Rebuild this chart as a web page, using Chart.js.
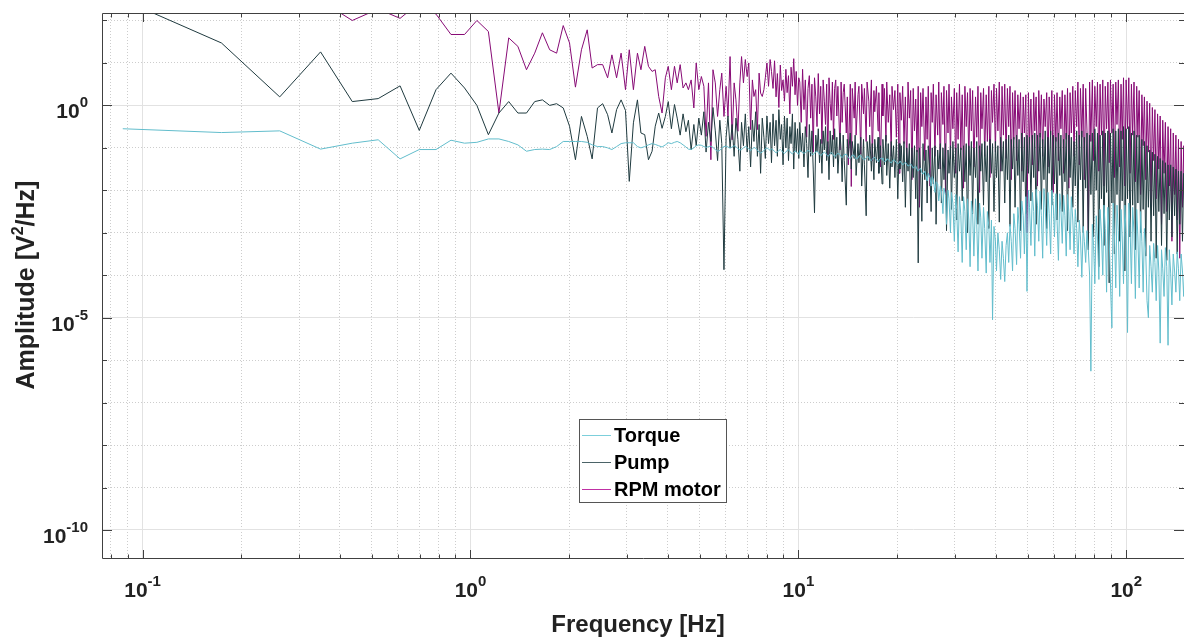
<!DOCTYPE html>
<html>
<head>
<meta charset="utf-8">
<script src="https://cdn.jsdelivr.net/npm/chart.js@4.4.1/dist/chart.umd.min.js"></script>
<style>
  html, body { margin: 0; padding: 0; background: #ffffff; }
  #wrap { width: 1184px; height: 639px; position: relative; }
</style>
</head>
<body>
<div id="wrap"><canvas id="psdChart"></canvas></div>
<script>
// frequency bins [Hz]
const freq = [
  0.087,0.174,0.262,0.349,0.436,0.523,0.610,0.698,0.785,0.872,
  0.959,1.046,1.134,1.221,1.308,1.395,1.482,1.570,1.657,1.744,
  1.831,1.918,2.005,2.090,2.180,2.270,2.350,2.440,2.530,2.620,
  2.700,2.790,2.880,2.970,3.050,3.140,3.230,3.310,3.400,3.490,
  3.580,3.660,3.750,3.840,3.930,4.010,
  4.10,4.19,4.27,4.36,4.45,4.54,4.62,4.71,4.80,4.88,
  4.97,5.06,5.15,5.23,5.32,5.41,5.49,5.58,5.67,5.76,
  5.84,5.93,6.02,6.10,6.19,6.28,6.37,6.45,6.54,6.63,
  6.71,6.80,6.89,6.98,7.06,7.15,7.24,7.32,7.41,7.50,
  7.59,7.67,7.76,7.85,7.93,8.02,8.11,8.20,8.28,
  8.37,8.46,8.55,8.63,8.72,8.81,8.89,8.98,9.07,9.16,
  9.24,9.33,9.42,9.50,9.59,9.68,9.77,9.85,9.94,10.03,
  10.1,10.2,10.3,10.4,10.5,10.6,10.7,10.8,10.9,11.0,
  11.1,11.2,11.3,11.4,11.5,11.6,11.7,11.8,11.9,12.0,
  12.1,12.2,12.3,12.4,12.5,12.6,12.7,12.8,12.9,13.0,
  13.1,13.2,13.4,13.5,13.6,13.7,13.8,14.0,14.1,14.2,
  14.4,14.5,14.6,14.8,14.9,15.0,15.2,15.3,15.5,15.6,
  15.8,15.9,16.1,16.2,16.4,16.5,16.7,16.8,17.0,17.1,
  17.3,17.5,17.6,17.8,18.0,18.1,18.3,18.5,18.6,18.8,
  19.0,19.2,19.3,19.5,19.7,19.9,20.1,20.3,20.4,20.6,
  20.8,21.0,21.2,21.4,21.6,21.8,22.0,22.2,22.4,22.6,
  22.8,23.0,23.2,23.4,23.6,23.8,24.0,24.3,24.5,24.7,
  24.9,25.2,25.4,25.6,25.8,26.1,26.3,26.6,26.8,27.1,
  27.3,27.6,27.8,28.1,28.3,28.6,28.8,29.1,29.3,29.6,
  29.9,30.2,30.4,30.7,31.0,31.3,31.6,31.9,32.2,32.5,
  32.8,33.1,33.4,33.7,34.0,34.3,34.7,35.0,35.3,35.7,
  36.0,36.3,36.7,37.0,37.4,37.7,38.1,38.4,38.8,39.1,
  39.5,39.9,40.2,40.6,41.0,41.4,41.8,42.2,42.6,43.0,
  43.4,43.8,44.2,44.6,45.0,45.4,45.8,46.3,46.7,47.1,
  47.6,48.0,48.5,48.9,49.4,49.8,50.3,50.7,51.2,51.7,
  52.2,52.6,53.1,53.6,54.1,54.6,55.1,55.6,56.1,56.6,
  57.2,57.7,58.2,58.8,59.3,59.9,60.4,61.0,61.5,62.1,
  62.7,63.2,63.8,64.4,65.0,65.6,66.2,66.8,67.4,68.0,
  68.7,69.3,69.9,70.6,71.2,71.9,72.5,73.2,73.9,74.5,
  75.2,75.9,76.6,77.3,78.0,78.8,79.5,80.2,81.0,81.7,
  82.5,83.2,84.0,84.8,85.5,86.3,87.1,87.9,88.7,89.5,
  90.4,91.2,92.0,92.9,93.7,94.6,95.5,96.4,97.2,98.1,
  99.0,99.9,100.9,101.8,102.7,103.7,104.6,105.6,106.6,107.6,
  108.5,109.5,110.6,111.6,112.6,113.6,114.7,115.7,116.8,117.9,
  119.0,120.1,121.2,122.3,123.4,124.6,125.7,126.9,128.1,129.2,
  130.4,131.6,132.9,134.1,135.3,136.6,137.8,139.1,140.4,141.7,
  143.0,144.3,145.6,147.0,148.4,149.7,151.1
];

// amplitudes as log10(V^2/Hz), one per bin
const torqueLog = [
  -0.55,-0.64,-0.60,-1.03,-0.89,-0.81,-1.26,-1.04,-1.04,-0.82,
  -0.89,-0.87,-0.79,-0.79,-0.85,-0.93,-1.08,-1.04,-1.03,-1.04,
  -0.97,-0.85,-0.85,-0.85,-0.85,-0.87,-0.93,-0.97,-0.97,-1.00,
  -1.04,-0.97,-0.90,-0.88,-0.88,-0.88,-0.97,-1.00,-0.97,-0.93,
  -0.90,-0.92,-0.95,-0.98,-0.93,-0.88,
  -0.90,-0.87,-0.85,-0.88,-0.93,-0.98,-1.03,-1.04,-1.00,-0.95,
  -0.93,-0.94,-0.97,-0.99,-0.97,-0.96,-0.99,-1.04,-1.08,-1.06,
  -1.01,-0.97,-0.96,-0.98,-1.01,-0.98,-0.95,-0.97,-1.02,-1.05,
  -1.04,-1.00,-0.97,-0.99,-1.03,-1.06,-1.03,-0.99,-1.01,-1.06,
  -1.10,-1.12,-1.10,-1.06,-1.02,-1.00,-1.03,-1.06,-1.02,
  -1.05,-1.08,-1.12,-1.10,-1.06,-1.04,-1.07,-1.11,-1.13,-1.10,
  -1.06,-1.05,-1.08,-1.12,-1.14,-1.11,-1.07,-1.09,-1.13,-1.15,
  -1.06,-1.08,-1.11,-1.13,-1.11,-1.08,-1.06,-1.08,-1.12,-1.15,
  -1.16,-1.13,-1.09,-1.08,-1.11,-1.15,-1.18,-1.16,-1.12,-1.10,
  -1.12,-1.16,-1.20,-1.18,-1.14,-1.11,-1.13,-1.17,-1.21,-1.19,
  -1.15,-1.13,-1.16,-1.21,-1.23,-1.20,-1.16,-1.15,-1.19,-1.23,
  -1.25,-1.21,-1.17,-1.18,-1.23,-1.26,-1.24,-1.19,-1.18,-1.22,
  -1.27,-1.28,-1.24,-1.20,-1.22,-1.27,-1.30,-1.27,-1.22,-1.23,
  -1.28,-1.32,-1.30,-1.25,-1.24,-1.29,-1.33,-1.31,-1.26,-1.27,
  -1.32,-1.36,-1.33,-1.28,-1.30,-1.35,-1.38,-1.34,-1.31,-1.35,
  -1.40,-1.37,-1.34,-1.38,-1.43,-1.41,-1.38,-1.42,-1.48,-1.45,
  -1.43,-1.50,-1.55,-1.50,-1.48,-1.58,-1.62,-1.55,-1.65,-1.78,
  -1.60,-1.70,-1.90,-1.68,-1.75,-2.05,-1.80,-1.85,-2.25,-1.90,
  -2.00,-2.55,-1.95,-2.10,-2.80,-2.00,-2.20,-3.00,-2.05,-2.30,
  -3.20,-2.10,-2.45,-3.45,-2.15,-2.60,-3.70,-2.15,-2.50,-3.40,
  -2.20,-2.70,-3.80,-2.25,-2.55,-3.55,-2.20,-2.80,-3.90,-2.30,
  -2.65,-3.60,-2.40,-2.90,-3.95,-2.50,-2.85,-3.70,-2.70,-5.05,
  -2.85,-3.20,-3.90,-3.00,-3.40,-4.10,-3.20,-3.60,-4.15,-3.30,
  -3.00,-3.70,-2.80,-3.20,-3.90,-2.55,-2.90,-3.75,-2.40,-2.80,
  -3.60,-2.25,-2.60,-3.50,-2.15,-4.38,-2.00,-2.40,-3.30,-2.05,
  -2.50,-3.55,-1.98,-2.35,-3.20,-2.02,-2.60,-3.60,-1.96,-2.40,
  -3.30,-2.05,-2.55,-3.50,-2.00,-2.35,-3.10,-2.08,-2.70,-3.65,
  -2.08,-2.45,-3.25,-2.12,-2.60,-3.55,-2.10,-2.50,-3.40,-2.15,
  -2.70,-3.50,-2.45,-2.90,-3.80,-2.70,-3.10,-4.05,-2.85,-3.20,
  -3.70,-2.95,-3.40,-4.00,-6.26,-2.80,-3.30,-4.20,-2.60,-3.10,
  -4.10,-2.45,-3.00,-4.00,-2.35,-2.90,-4.40,-2.40,-3.10,-4.20,
  -5.24,-2.30,-3.00,-4.30,-2.35,-2.95,-4.50,-2.45,-3.10,-4.20,
  -2.35,-3.00,-5.35,-2.30,-2.85,-4.20,-2.40,-3.00,-4.55,-2.45,
  -3.10,-4.30,-2.50,-3.20,-4.40,-2.90,-3.50,-4.60,-5.00,-3.30,
  -3.80,-4.40,-3.25,-3.70,-4.60,-3.30,-3.90,-5.60,-3.40,-3.85,
  -4.50,-3.35,-3.80,-5.65,-3.40,-3.95,-4.70,-3.50,-3.90,-4.40,
  -3.45,-3.85,-4.60,-3.50,-3.90,-4.50,-3.60
];

const pumpLog = [
  2.49,1.47,0.20,1.26,0.09,0.16,0.46,-0.59,0.37,0.76,
  0.41,0.00,-0.69,-0.18,0.09,-0.18,-0.18,0.09,0.13,0.00,
  0.04,-0.06,-0.49,-1.28,-0.26,-0.73,-1.26,-0.06,0.04,-0.22,
  -0.65,-0.10,0.13,-0.12,-1.79,-0.41,0.13,-0.65,-0.69,-1.28,
  -1.08,-0.49,-0.18,-0.54,-0.26,0.09,
  -0.55,0.02,-0.30,-0.70,-0.20,-0.62,-0.35,-1.05,-0.45,-0.95,
  -0.30,-0.70,-0.15,-1.10,-0.40,-0.85,-0.05,-0.60,-1.30,-0.35,
  -0.90,-3.87,-0.75,-0.25,-1.00,-0.45,-1.20,-0.30,-0.80,-1.55,
  -0.40,-0.95,-0.20,-1.10,-0.50,-1.45,-0.35,-0.85,-0.15,-1.20,
  -0.45,-1.60,-0.30,-0.75,-1.25,-0.25,-0.90,-0.40,-1.35,
  -0.20,-0.95,-0.35,-1.20,-0.10,-0.80,-0.45,-1.40,-0.25,-1.00,
  -0.30,-1.30,-0.50,-0.90,-0.20,-1.50,-0.40,-1.10,-0.55,-1.25,
  -0.40,-1.10,-0.65,-1.45,-0.50,-0.90,-1.70,-0.45,-1.20,-0.60,
  -1.50,-2.53,-0.70,-1.10,-0.55,-1.35,-0.80,-1.60,-0.60,-1.05,
  -0.50,-1.30,-0.85,-1.75,-0.60,-1.15,-0.70,-1.45,-0.55,-1.25,
  -0.75,-1.60,-0.65,-1.05,-1.80,-0.70,-1.30,-2.35,-0.80,-1.20,
  -0.65,-1.50,-0.85,-1.25,-0.70,-1.65,-0.90,-1.35,-0.75,-1.90,
  -0.80,-1.40,-2.60,-0.85,-1.30,-0.70,-1.55,-0.90,-1.75,-0.80,
  -1.35,-0.75,-1.60,-0.95,-1.85,-0.80,-1.40,-0.70,-1.65,-0.90,
  -1.95,-0.85,-1.45,-0.95,-1.70,-0.80,-2.20,-0.90,-1.50,-0.95,
  -1.80,-0.85,-2.40,-1.00,-1.55,-0.90,-2.60,-1.00,-1.70,-0.95,
  -2.20,-1.05,-3.71,-1.00,-1.60,-2.73,-0.90,-1.75,-1.05,-2.30,
  -0.95,-1.60,-2.50,-1.00,-1.85,-0.95,-2.80,-1.05,-1.50,-0.90,
  -2.30,-1.00,-1.75,-0.90,-2.95,-1.05,-1.60,-0.95,-2.45,-0.85,
  -1.70,-1.00,-2.70,-0.90,-1.55,-1.00,-2.25,-0.95,-1.80,-0.90,
  -3.00,-0.95,-1.65,-0.85,-2.55,-1.00,-1.70,-0.85,-2.80,-0.95,
  -1.55,-0.90,-2.35,-0.85,-1.80,-0.95,-2.90,-0.80,-1.60,-0.90,
  -2.50,-0.85,-1.70,-0.95,-2.75,-0.75,-1.55,-0.85,-2.30,-0.80,
  -1.75,-0.70,-2.85,-0.80,-1.50,-0.75,-2.40,-0.70,-1.65,-0.80,
  -2.95,-0.65,-1.80,-0.75,-2.55,-0.70,-1.60,-0.75,-2.25,-0.70,
  -1.70,-0.65,-2.80,-0.70,-1.55,-0.65,-2.45,-0.80,-1.75,-0.60,
  -2.90,-0.75,-1.60,-0.60,-2.35,-0.70,-1.85,-0.75,-2.70,-0.65,
  -1.65,-0.70,-2.50,-0.80,-1.80,-0.65,-2.95,-0.70,-1.70,-0.75,
  -2.40,-0.85,-1.90,-0.60,-2.75,-0.70,-1.75,-0.60,-3.00,-0.75,
  -1.95,-0.65,-3.40,-0.70,-2.10,-0.65,-3.10,-0.55,-2.00,-0.65,
  -3.80,-0.70,-2.20,-0.60,-3.30,-0.65,-2.05,-0.60,-4.18,-0.65,
  -2.30,-0.55,-3.50,-0.60,-2.10,-0.55,-3.20,-0.60,-2.25,-0.50,
  -3.90,-0.55,-2.20,-0.50,-3.10,-0.65,-2.35,-0.60,-3.40,-0.70,
  -2.30,-0.70,-3.00,-0.80,-2.45,-0.85,-3.55,-0.95,-2.40,-1.05,
  -3.20,-1.10,-2.60,-1.15,-3.60,-1.20,-2.50,-1.25,-3.30,-1.30,
  -2.55,-1.35,-3.65,-1.40,-2.70,-1.40,-3.10,-1.45,-2.60,-1.50,
  -3.50,-1.55,-2.80,-1.55,-3.20,-1.60,-2.70
];

const rpmLog = [
  3.00,2.90,2.80,2.47,2.00,2.27,2.05,2.42,2.15,1.67,
  1.67,2.00,1.74,-0.18,1.59,1.39,0.84,1.23,1.71,1.31,
  1.23,1.88,1.47,0.43,1.31,1.78,0.88,0.96,0.96,0.65,
  1.19,0.65,1.23,0.37,1.31,0.37,1.23,0.84,1.39,0.92,
  0.80,0.84,0.21,-0.18,0.65,0.92,
  0.37,0.92,0.53,0.96,0.41,0.53,0.37,0.60,-0.06,1.00,
  0.37,0.68,0.45,-0.73,0.53,-1.28,0.84,0.53,-0.26,0.37,
  0.76,-0.26,0.45,-0.26,1.15,-0.81,0.53,0.13,-0.61,0.53,
  1.15,0.53,1.08,0.68,1.00,-0.57,0.60,0.21,0.37,-0.57,
  0.76,0.29,0.21,0.37,0.65,1.00,0.45,1.08,0.80,
  0.40,1.05,0.20,0.75,-0.05,0.95,0.35,0.60,0.10,0.85,
  0.30,0.70,-0.20,0.90,0.45,1.10,0.25,0.80,0.00,0.65,
  0.55,-0.40,0.85,-0.10,0.60,-0.75,0.40,0.70,-0.30,0.50,
  -1.10,0.65,0.20,-0.50,0.75,-0.20,0.45,-0.90,0.60,0.10,
  -0.45,0.50,-1.20,0.65,0.05,-0.35,0.55,-0.80,0.40,0.60,
  -0.25,0.45,-1.05,0.55,-0.40,0.30,0.50,-0.65,0.20,-1.40,
  0.50,-1.91,0.40,-0.30,0.55,-0.70,0.25,0.45,-1.15,0.50,
  -0.20,0.40,-0.85,0.55,0.10,-0.50,0.60,-1.30,0.35,-0.15,
  0.45,-0.60,0.30,-1.45,0.50,-0.25,0.40,-0.85,0.55,-0.40,
  0.25,-1.20,0.45,-0.10,0.35,-0.75,0.50,-1.60,0.30,-0.35,
  0.45,-0.90,0.20,-1.40,0.55,-0.30,0.35,-1.75,0.40,-0.60,
  0.15,-1.10,0.45,-2.40,0.30,-0.50,0.40,-1.30,0.20,-0.80,
  0.45,-1.90,0.30,-0.40,0.50,-1.20,0.25,-0.70,0.55,-1.50,
  0.30,-0.45,0.45,-2.10,0.35,-0.65,0.50,-1.25,0.20,-0.55,
  0.40,-1.60,0.30,-0.80,0.50,-1.05,0.25,-1.95,0.45,-0.50,
  0.30,-1.30,0.40,-0.60,0.35,-1.45,0.20,-0.75,0.45,-2.05,
  0.30,-0.55,0.40,-1.20,0.25,-0.85,0.45,-1.70,0.35,-0.40,
  0.50,-1.10,0.40,-0.60,0.55,-1.55,0.45,-0.70,0.50,-1.25,
  0.40,-0.50,0.45,-1.75,0.30,-0.80,0.35,-1.30,0.25,-0.55,
  0.30,-1.55,0.20,-0.65,0.25,-3.00,0.30,-0.90,0.15,-1.40,
  0.30,-0.60,0.20,-1.90,0.35,-0.75,0.25,-1.20,0.15,-0.50,
  0.30,-1.45,0.20,-0.70,0.35,-2.05,0.25,-0.85,0.30,-1.30,
  0.20,-0.55,0.35,-1.60,0.25,-0.80,0.40,-1.95,0.30,-0.65,
  0.45,-1.20,0.35,-0.50,0.55,-1.40,0.40,-0.75,0.50,-1.75,
  0.40,-0.60,-3.10,0.55,-0.85,0.60,-1.30,0.45,-0.50,0.55,
  -1.55,0.50,-0.70,0.60,-1.90,0.45,-0.55,0.55,-1.35,0.60,
  -0.65,0.50,-1.70,0.55,-0.45,0.60,-1.45,0.50,-0.80,0.65,
  -1.90,0.60,-0.55,0.65,-1.60,0.50,-0.70,0.55,-1.80,0.45,
  -0.75,0.35,-2.10,0.25,-0.95,0.20,-1.75,0.10,-1.10,0.05,
  -2.40,-0.05,-1.30,-0.10,-2.20,-0.20,-1.50,-0.25,-2.80,-0.35,
  -1.60,-0.40,-2.50,-0.50,-1.90,-0.55,-3.20,-0.65,-2.10,-0.70,
  -2.70,-0.80,-3.60,-0.85,-2.40,-0.95,-3.00
];

const seriesNames = ["Torque", "Pump", "RPM motor"];
const seriesColors = ["#62bdcc", "#1f3a3f", "#870a75"];
const legendColors = ["#7ccfdb", "#4b6367", "#c030a4"];

// axis ticks
const xTicks = [0.08, 0.09, 0.1, 0.2, 0.3, 0.4, 0.5, 0.6, 0.7, 0.8, 0.9,
                1, 2, 3, 4, 5, 6, 7, 8, 9, 10, 20, 30, 40, 50, 60, 70, 80, 90, 100];
const yTicks = [1e-10, 1e-9, 1e-8, 1e-7, 1e-6, 1e-5, 1e-4, 1e-3, 1e-2, 1e-1, 1, 10, 100];
const xLabelTicks = [0.1, 1, 10, 100];
const yLabelTicks = [1e-10, 1e-5, 1];

const FONT = "'Liberation Sans', Arial, Helvetica, sans-serif";
const AXIS_COLOR = "#404040";
const TEXT_COLOR = "#222222";

function toPoints(logs) {
  return freq.map((f, i) => ({ x: f, y: Math.pow(10, logs[i]) }));
}

function isDecade(v) {
  let l = Math.log10(v);
  return Math.abs(l - Math.round(l)) < 1e-6;
}

function isYMajor(v) {
  let l = Math.round(Math.log10(v));
  return isDecade(v) && l % 5 === 0;
}

// "10" with a superscript exponent
function drawPower(ctx, exp, x, baseline, align) {
  ctx.font = "bold 21px " + FONT;
  let wb = ctx.measureText("10").width;
  ctx.font = "bold 15px " + FONT;
  let we = ctx.measureText(exp).width;
  let start = align === "right" ? x - wb - we : x - (wb + we) / 2;
  ctx.textAlign = "left";
  ctx.textBaseline = "alphabetic";
  ctx.fillStyle = TEXT_COLOR;
  ctx.font = "bold 21px " + FONT;
  ctx.fillText("10", start, baseline);
  ctx.font = "bold 15px " + FONT;
  ctx.fillText(exp, start + wb, baseline - 11);
}

const matlabAxes = {
  id: "matlabAxes",
  afterDraw(chart) {
    const ctx = chart.ctx;
    const a = chart.chartArea;
    const xs = chart.scales.x;
    const ys = chart.scales.y;
    ctx.save();

    // axes box
    ctx.strokeStyle = AXIS_COLOR;
    ctx.lineWidth = 1;
    ctx.beginPath();
    ctx.moveTo(a.left + 0.5, a.bottom - 0.5);
    ctx.lineTo(a.left + 0.5, a.top + 0.5);
    ctx.lineTo(a.right + 0.5, a.top + 0.5);
    ctx.moveTo(a.left + 0.5, a.bottom - 0.5);
    ctx.lineTo(a.right + 0.5, a.bottom - 0.5);
    ctx.stroke();

    // inward ticks
    ctx.beginPath();
    xTicks.forEach(v => {
      let px = Math.round(xs.getPixelForValue(v)) + 0.5;
      let len = isDecade(v) ? 9 : 4.5;
      ctx.moveTo(px, a.bottom);
      ctx.lineTo(px, a.bottom - len);
      ctx.moveTo(px, a.top);
      ctx.lineTo(px, a.top + len);
    });
    yTicks.forEach(v => {
      let py = Math.round(ys.getPixelForValue(v)) + 0.5;
      let len = isYMajor(v) ? 10 : 5;
      ctx.moveTo(a.left, py);
      ctx.lineTo(a.left + len, py);
      ctx.moveTo(a.right, py);
      ctx.lineTo(a.right - len, py);
    });
    ctx.stroke();

    // tick labels
    xLabelTicks.forEach(v => {
      drawPower(ctx, String(Math.round(Math.log10(v))), xs.getPixelForValue(v), a.bottom + 38, "center");
    });
    yLabelTicks.forEach(v => {
      drawPower(ctx, String(Math.round(Math.log10(v))), a.left - 14, ys.getPixelForValue(v) + 13, "right");
    });

    // axis titles
    ctx.fillStyle = TEXT_COLOR;
    ctx.font = "bold 24px " + FONT;
    ctx.textAlign = "center";
    ctx.textBaseline = "alphabetic";
    ctx.fillText("Frequency [Hz]", (a.left + a.right) / 2 - 5, a.bottom + 73);

    ctx.save();
    ctx.translate(34, (a.top + a.bottom) / 2 - 1);
    ctx.rotate(-Math.PI / 2);
    let big = "bold 25px " + FONT;
    let small = "bold 16px " + FONT;
    ctx.font = big;
    let w1 = ctx.measureText("Amplitude [V").width;
    let w3 = ctx.measureText("/Hz]").width;
    ctx.font = small;
    let w2 = ctx.measureText("2").width;
    let sx = -(w1 + w2 + w3) / 2;
    ctx.textAlign = "left";
    ctx.font = big;
    ctx.fillText("Amplitude [V", sx, 0);
    ctx.font = small;
    ctx.fillText("2", sx + w1, -11);
    ctx.font = big;
    ctx.fillText("/Hz]", sx + w1 + w2, 0);
    ctx.restore();

    // legend box
    let lx = a.left + 477, ly = a.top + 406, lw = 147, lh = 83;
    ctx.fillStyle = "#ffffff";
    ctx.fillRect(lx, ly, lw, lh);
    ctx.strokeStyle = "#555555";
    ctx.lineWidth = 1;
    ctx.strokeRect(lx + 0.5, ly + 0.5, lw, lh);
    ctx.font = "bold 20px " + FONT;
    ctx.textAlign = "left";
    ctx.textBaseline = "middle";
    seriesNames.forEach((name, i) => {
      let ry = Math.round(ly + 16 + i * 27) + 0.5;
      ctx.strokeStyle = legendColors[i];
      ctx.beginPath();
      ctx.moveTo(lx + 3, ry);
      ctx.lineTo(lx + 32, ry);
      ctx.stroke();
      ctx.fillStyle = "#000000";
      ctx.fillText(name, lx + 35, ry + 1);
    });

    ctx.restore();
  }
};

function gridColor(major) {
  return major ? "#e2e2e2" : "#cdcdcd";
}

const datasets = [
  { label: seriesNames[2], data: toPoints(rpmLog), borderColor: seriesColors[2], order: 3 },
  { label: seriesNames[1], data: toPoints(pumpLog), borderColor: seriesColors[1], order: 2 },
  { label: seriesNames[0], data: toPoints(torqueLog), borderColor: seriesColors[0], order: 1 }
];

var ctxPsd = document.getElementById("psdChart").getContext("2d");
new Chart(ctxPsd, {
  type: "line",
  data: { datasets: datasets },
  options: {
    responsive: true,
    maintainAspectRatio: false,
    animation: false,
    elements: {
      point: { radius: 0, hoverRadius: 0 },
      line: { borderWidth: 1, tension: 0, fill: false }
    },
    layout: { padding: { left: 102, top: 13, right: 0, bottom: 80 } },
    plugins: { legend: { display: false }, tooltip: { enabled: false } },
    events: [],
    scales: {
      x: {
        type: "logarithmic",
        min: 0.0752,
        max: 150,
        afterBuildTicks: s => { s.ticks = xTicks.map(v => ({ value: v })); },
        ticks: { display: false },
        grid: {
          drawTicks: false,
          lineWidth: 1,
          color: c => gridColor(isDecade(c.tick.value))
        },
        border: {
          display: false,
          dash: c => (c.tick && isDecade(c.tick.value)) ? [] : [1, 2]
        }
      },
      y: {
        type: "logarithmic",
        min: 2.07e-11,
        max: 150,
        afterBuildTicks: s => { s.ticks = yTicks.map(v => ({ value: v })); },
        ticks: { display: false },
        grid: {
          drawTicks: false,
          lineWidth: 1,
          color: c => gridColor(isYMajor(c.tick.value))
        },
        border: {
          display: false,
          dash: c => (c.tick && isYMajor(c.tick.value)) ? [] : [1, 2]
        }
      }
    }
  },
  plugins: [matlabAxes]
});
</script>
</body>
</html>
